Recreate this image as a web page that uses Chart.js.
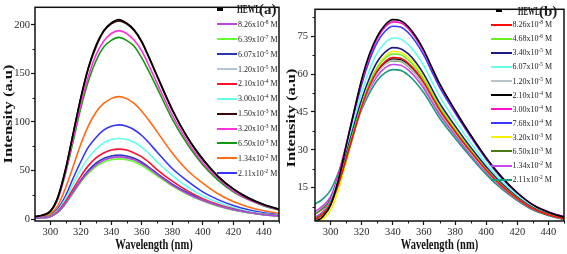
<!DOCTYPE html>
<html>
<head>
<meta charset="utf-8">
<title>HEWL fluorescence quenching</title>
<script src="https://cdn.jsdelivr.net/npm/chart.js@4.4.1/dist/chart.umd.min.js"></script>
<style>
  html, body { margin: 0; padding: 0; background: #fff; }
  body { position: relative; width: 567px; height: 254px; overflow: hidden;
         font-family: "Liberation Serif", "Times New Roman", serif; }
  canvas { position: absolute; top: 0; }
  #chartA { left: 0; }
  #chartB { left: 283px; }
  .legend { position: absolute; font-size: 8px; color: #1c1c1c; }
  .legend .row { position: relative; display: flex; align-items: center; white-space: nowrap; }
  .legend .sw { display: inline-block; height: 2px; flex: none; margin-right: 1px; }
  .legend sup { font-size: 5.5px; line-height: 0; vertical-align: 3px; }
  .legend .hw { position: absolute; font-weight: bold; font-size: 12.5px; line-height: 14px;
                top: 50%; margin-top: -7px; transform-origin: 0 50%; }
  .legend .tag { position: absolute; font-weight: bold; font-size: 15px; line-height: 16px;
                 top: 50%; margin-top: -8px; }
</style>
</head>
<body>
<canvas id="chartA" width="283" height="254"></canvas>
<canvas id="chartB" width="284" height="254"></canvas>
<div id="legendA" class="legend"></div>
<div id="legendB" class="legend"></div>
<script>
// --- shared axis data ---
const wavelength = [290, 295, 300, 305, 310, 315, 320, 325, 330, 335, 340, 345, 350,
                    355, 360, 365, 370, 380, 390, 400, 410, 420, 430, 440, 450];
const xTicks = [300, 320, 340, 360, 380, 400, 420, 440];
const xMinor = [310, 330, 350, 370, 390, 410, 430, 450];

// --- panel (a) ---
const yTicksA = [0, 50, 100, 150, 200];
const yMinorA = [25, 75, 125, 175];
const labelsA = ["HEWL", "8.26x10^-8 M", "6.39x10^-7 M", "6.07x10^-5 M", "1.20x10^-5 M",
                 "2.10x10^-4 M", "3.00x10^-4 M", "1.50x10^-3 M", "3.20x10^-3 M",
                 "6.50x10^-3 M", "1.34x10^-2 M", "2.11x10^-2 M"];
const colorsA = ["#000000", "#b848dc", "#66ff33", "#2a35b8", "#b4c4d4", "#ff1030",
                 "#66ffee", "#3a0808", "#ff33dd", "#129912", "#ff6a12", "#3535ff"];
const hewlA  = [2.5, 4, 8, 23, 51, 88, 125, 156, 179, 194, 202, 205.5, 202, 195, 183, 166, 148, 113, 84, 62, 44, 31, 22, 15, 10];
const a826e8 = [0.8, 1.3, 2.5, 7, 16, 27.5, 39, 48.5, 55.5, 60.5, 63, 64, 63, 61, 57, 52, 46, 35, 26, 19, 13.7, 9.5, 6.7, 4.5, 3.1];
const a639e7 = [0.7, 1.2, 2.4, 6.8, 15.5, 26.5, 38, 47, 54, 58.5, 61, 62, 61, 59, 55, 50, 44.5, 34, 25.5, 18.5, 13.3, 9.3, 6.5, 4.4, 3];
const a607e5 = [0.8, 1.3, 2.6, 7, 16, 28, 40, 50, 57.5, 62.5, 65, 66, 65, 62.5, 58.5, 53, 47, 36, 27, 19.5, 14, 9.7, 6.8, 4.6, 3.2];
const a120e5 = [0.8, 1.3, 2.6, 7, 16, 28, 39.5, 49.5, 56.5, 61.5, 64, 65, 64, 61.5, 58, 52.5, 46.5, 35.5, 26.5, 19.5, 14, 9.7, 6.8, 4.6, 3.2];
const a210e4 = [0.9, 1.5, 3, 8, 18, 31, 44, 55, 63, 68, 71, 72, 71, 68, 64, 58, 51, 39, 29, 21, 15, 10.5, 7, 4.8, 3.3];
const a300e4 = [1, 1.7, 3.3, 9, 21, 36, 51, 63, 72, 78.5, 82, 83, 82, 79, 74, 67, 59, 45, 33, 24, 17, 12, 8, 5.5, 3.8];
const a150e3 = [2.4, 4, 8, 22, 51, 88, 124, 155, 177, 193, 201, 204, 201, 194, 182, 165, 147, 112, 84, 61, 44, 31, 21, 15, 10];
const a320e3 = [2.3, 4, 8, 21, 48, 83, 118, 147, 169, 183, 191, 194, 191, 184, 173, 157, 140, 107, 80, 58, 42, 29, 20, 14, 9.7];
const a650e3 = [2.2, 4, 7, 21, 47, 80, 114, 142, 163, 177, 184, 187, 184, 178, 166, 151, 135, 103, 77, 56, 40, 28, 20, 13.5, 9.4];
const a134e2 = [1.5, 2.5, 5, 14, 32, 54, 77, 96, 110, 119, 124, 126, 124, 119, 111, 101, 90, 68, 50, 37, 26, 18, 12.5, 8.5, 6];
const a211e2 = [1.2, 2, 4, 11, 24, 42, 59, 74, 84, 91.5, 95.5, 97, 95.5, 92, 86, 78, 69, 52, 39, 28, 20, 14, 9.5, 6.5, 4.5];
const seriesA = [hewlA, a826e8, a639e7, a607e5, a120e5, a210e4, a300e4, a150e3, a320e3, a650e3, a134e2, a211e2];

// --- panel (b) ---
const yTicksB = [15, 30, 45, 60, 75];
const yMinorB = [7.5, 22.5, 37.5, 52.5, 67.5, 82.5];
const labelsB = ["HEWL", "8.26x10^-8 M", "4.68x10^-6 M", "3.40x10^-5 M", "6.07x10^-5 M",
                 "1.20x10^-5 M", "2.10x10^-4 M", "3.00x10^-4 M", "7.68x10^-4 M",
                 "3.20x10^-3 M", "6.50x10^-3 M", "1.34x10^-2 M", "2.11x10^-2 M"];
const colorsB = ["#000000", "#ff0a0a", "#66f022", "#1c1c80", "#66ffee", "#b8c4cc", "#000000",
                 "#ff10cc", "#3838ff", "#f2f200", "#4c7a12", "#c448ee", "#1a9a80"];
const hewlB  = [1.5, 3.5, 8, 18, 31.5, 45, 58, 68, 75, 79.5, 81.6, 81.2, 78.8, 74.7, 69.4, 62.8, 56.3, 45.7, 35.9, 26.9, 19.2, 13, 8.2, 5.3, 3.3];
const b826e8 = [2.5, 4.5, 8.5, 16.5, 26.5, 37, 47, 55.3, 61.3, 65, 66.6, 66.3, 64.3, 61, 56.6, 51.3, 46, 37.3, 29.3, 22, 15.7, 10.7, 6.7, 4.3, 2.7];
const b468e6 = [2.6, 4.6, 8.7, 17, 27, 38, 48, 56.5, 62.5, 66.3, 68, 67.7, 65.6, 62.2, 57.8, 52.4, 47, 38, 30, 22.4, 16, 10.9, 6.8, 4.4, 2.7];
const b340e5 = [2.7, 4.8, 9, 17.6, 28.2, 39.5, 50, 58.5, 64.9, 68.7, 70.5, 70.1, 68, 64.5, 59.9, 54.3, 48.6, 39.5, 31, 23.3, 16.6, 11.3, 7.1, 4.6, 2.8];
const b607e5 = [2.9, 5, 9.5, 18.6, 29.7, 41.6, 52.8, 61.7, 68.4, 72.4, 74.3, 73.9, 71.7, 68, 63.2, 57.2, 51.3, 41.6, 32.7, 24.5, 17.5, 11.9, 7.4, 4.8, 3];
const b120e5 = [2.6, 4.4, 8.5, 16.4, 26.2, 36.7, 46.5, 54.4, 60.3, 63.9, 65.5, 65.2, 63.2, 59.9, 55.7, 50.4, 45.2, 36.7, 28.8, 21.6, 15.4, 10.5, 6.6, 4.3, 2.6];
const b210e4 = [2.4, 4.4, 8.4, 16.4, 26.3, 36.9, 46.9, 54.8, 60.7, 64.4, 66, 65.7, 63.7, 60.4, 56.1, 50.8, 45.5, 37, 29, 21.8, 15.5, 10.6, 6.6, 4.3, 2.6];
const b300e4 = [3.2, 5.5, 10, 20, 32, 45, 57.3, 67, 74.2, 78.7, 80.7, 80.4, 78, 74, 68.8, 62.4, 56, 45.5, 35.8, 26.8, 19.1, 13, 8.3, 5.4, 3.4];
const b768e4 = [3.1, 5.3, 9.8, 19.5, 31.4, 44, 56, 65.5, 72.6, 77, 79, 78.7, 76.4, 72.5, 67.4, 61.1, 54.9, 44.7, 35.2, 26.3, 18.8, 12.8, 8.2, 5.4, 3.4];
const b320e3 = [1.2, 2.6, 6, 14, 25, 36.5, 47.5, 56.5, 63, 67.2, 69, 68.7, 66.6, 63.2, 58.7, 53.2, 47.7, 38.7, 30.5, 22.8, 16.3, 11, 7, 4.5, 2.8];
const b650e3 = [4.5, 6.8, 10.5, 18.5, 28, 38.2, 47.5, 55, 60.5, 64, 65.3, 65, 63, 59.8, 55.5, 50.3, 45, 36.5, 28.7, 21.5, 15.3, 10.4, 6.6, 4.2, 2.6];
const b134e2 = [5.5, 7.8, 11.5, 19.5, 28.5, 38, 46.8, 54, 59.2, 62.5, 63.8, 63.5, 61.6, 58.4, 54.2, 49.1, 44, 35.7, 28, 21, 15, 10.2, 6.5, 4.1, 2.5];
const b211e2 = [8.5, 10.5, 14, 21, 29.5, 38, 46, 52.5, 57.5, 60.5, 61.8, 61.5, 59.6, 56.5, 52.5, 47.6, 42.6, 34.6, 27.2, 20.3, 14.5, 9.9, 6.2, 4, 2.4];
const seriesB = [hewlB, b826e8, b468e6, b340e5, b607e5, b120e5, b210e4, b300e4, b768e4, b320e3, b650e3, b134e2, b211e2];

const SERIF = '"Liberation Serif", "Times New Roman", serif';

// frame, minor ticks and squeezed axis titles
const decor = {
  id: 'decor',
  afterDraw(chart, args, o) {
    const { ctx, chartArea: a, scales: { x, y } } = chart;
    ctx.save();
    ctx.strokeStyle = '#111';
    ctx.lineWidth = 1;
    ctx.beginPath();
    o.xMinor.forEach(v => {
      const px = Math.round(x.getPixelForValue(v)) + 0.5;
      ctx.moveTo(px, a.bottom); ctx.lineTo(px, a.bottom + 2.5);
    });
    o.yMinor.forEach(v => {
      const py = Math.round(y.getPixelForValue(v)) + 0.5;
      ctx.moveTo(a.left, py); ctx.lineTo(a.left - 2.5, py);
    });
    ctx.stroke();
    ctx.lineWidth = 1.5;
    ctx.strokeRect(a.left, a.top, a.right - a.left, a.bottom - a.top);

    ctx.fillStyle = '#111';
    ctx.textAlign = 'center';
    ctx.textBaseline = 'middle';
    // x title
    ctx.save();
    ctx.font = 'bold 14px ' + SERIF;
    ctx.translate((a.left + a.right) / 2 + o.xShift, o.xTitleY);
    ctx.scale(0.75, 1);
    ctx.fillText(o.xTitle, 0, 0);
    ctx.restore();
    // y title
    ctx.save();
    ctx.font = 'bold 16.5px ' + SERIF;
    ctx.translate(o.yTitleX, o.yTitleY);
    ctx.rotate(-Math.PI / 2);
    ctx.scale(1, 0.75);
    ctx.fillText(o.yTitle, 0, 0);
    ctx.restore();
    ctx.restore();
  }
};

function buildChart(id, cfg) {
  const datasets = cfg.series.map((vals, i) => ({
    label: cfg.labels[i],
    data: vals.map((v, k) => ({ x: wavelength[k], y: v })),
    borderColor: cfg.colors[i],
    borderWidth: 1.6,
    pointRadius: 0,
    fill: false,
    cubicInterpolationMode: 'monotone'
  }));
  const tickFont = { family: SERIF, size: 10.5 };
  const grid = { drawOnChartArea: false, drawTicks: true, tickLength: 4, tickColor: '#111', tickWidth: 1.2 };
  return new Chart(document.getElementById(id), {
    type: 'line',
    data: { datasets },
    plugins: [decor],
    options: {
      responsive: false,
      animation: false,
      events: [],
      layout: { padding: { top: 2, right: cfg.padRight, left: 0, bottom: 0 } },
      plugins: {
        legend: { display: false },
        tooltip: { enabled: false },
        decor: {
          xMinor, yMinor: cfg.yMinor,
          xTitle: 'Wavelength (nm)', yTitle: 'Intensity (a.u)',
          xShift: cfg.xShift, xTitleY: 245, yTitleX: cfg.yTitleX, yTitleY: cfg.yTitleY
        }
      },
      scales: {
        x: {
          type: 'linear', min: 290, max: 450,
          afterBuildTicks: s => { s.ticks = xTicks.map(v => ({ value: v })); },
          afterFit: s => { s.height = 33; },
          grid, border: { display: false },
          ticks: { color: '#2a2a2a', font: tickFont, padding: 1, maxRotation: 0, autoSkip: false }
        },
        y: {
          min: cfg.yMin, max: cfg.yMax,
          afterBuildTicks: s => { s.ticks = cfg.yTicks.map(v => ({ value: v })); },
          afterFit: s => { s.width = cfg.yWidth; },
          grid, border: { display: false },
          ticks: { color: '#2a2a2a', font: tickFont, padding: cfg.yPad, autoSkip: false }
        }
      }
    }
  });
}

function buildLegend(elId, chart, L) {
  const el = document.getElementById(elId);
  el.style.left = L.left + 'px';
  el.style.top = L.top + 'px';
  chart.data.datasets.forEach((ds, i) => {
    const row = document.createElement('div');
    row.className = 'row';
    row.style.height = L.rowH + 'px';
    if (i === 0) {
      row.innerHTML =
        '<span class="sw" style="width:6px;height:3px;margin-left:' + L.dashL + 'px;background:#000"></span>' +
        '<span class="hw" style="left:' + L.hewlL + 'px;transform:scaleX(' + L.hewlS + ')">' + ds.label + '</span>' +
        '<span class="tag" style="left:' + L.tagL + 'px">' + L.tag + '</span>';
    } else {
      row.innerHTML =
        '<span class="sw" style="width:' + L.swW + 'px;margin-left:' + L.swL + 'px;background:' + ds.borderColor + '"></span>' +
        '<span>' + ds.label.replace(/\^(-?\d+)/, '<sup>$1</sup>') + '</span>';
    }
    el.appendChild(row);
  });
}

const chartA = buildChart('chartA', {
  series: seriesA, labels: labelsA, colors: colorsA,
  yMin: -2, yMax: 218, yTicks: yTicksA, yMinor: yMinorA,
  yWidth: 35, yPad: 1, padRight: 4, xShift: -3, yTitleX: 8.5, yTitleY: 114
});
const chartB = buildChart('chartB', {
  series: seriesB, labels: labelsB, colors: colorsB,
  yMin: 1.8, yMax: 85.7, yTicks: yTicksB, yMinor: yMinorB,
  yWidth: 32, yPad: 3, padRight: 3, xShift: 0, yTitleX: 9, yTitleY: 118
});

buildLegend('legendA', chartA, { left: 216, top: 2, rowH: 14.9, swW: 20, swL: 1, dashL: 1,
  hewlL: 21, hewlS: 0.6, tagL: 43, tag: '(a)' });
buildLegend('legendB', chartB, { left: 489, top: 3.5, rowH: 14.1, swW: 21, swL: 1.5, dashL: 7,
  hewlL: 29, hewlS: 0.56, tagL: 50, tag: '(b)' });
</script>
</body>
</html>
